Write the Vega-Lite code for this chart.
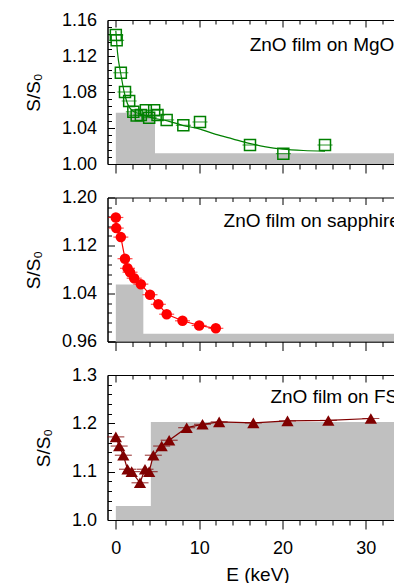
{
  "$schema": "https://vega.github.io/schema/vega-lite/v6.json",
  "background": "white",
  "padding": {"left": 23.5, "top": 10, "right": 0, "bottom": 0},
  "config": {
    "font": "Liberation Sans",
    "view": {"stroke": "black", "strokeWidth": 1},
    "axis": {
      "domainColor": "black", "domainWidth": 1, "tickColor": "black", "tickWidth": 1,
      "labelColor": "black", "titleColor": "black", "labelFont": "Liberation Sans", "titleFont": "Liberation Sans",
      "labelFontSize": 18, "titleFontSize": 19, "titleFontWeight": "normal", "grid": false
    }
  },
  "datasets": {
    "grey1": [{"x": 0, "y": 1.057}, {"x": 4.7, "y": 1.012}, {"x": 35, "y": 1.012}],
    "grey2": [{"x": 0, "y": 1.055}, {"x": 3.3, "y": 0.973}, {"x": 35, "y": 0.973}],
    "grey3": [{"x": 0, "y": 1.029}, {"x": 4.2, "y": 1.203}, {"x": 35, "y": 1.203}],
    "fit1": [
      {"x": 0, "y": 1.148}, {"x": 0.2, "y": 1.124}, {"x": 0.6, "y": 1.1}, {"x": 1.0, "y": 1.08}, {"x": 1.4, "y": 1.067},
      {"x": 2.0, "y": 1.059}, {"x": 2.8, "y": 1.056}, {"x": 3.4, "y": 1.054}, {"x": 4.5, "y": 1.051}, {"x": 6.2, "y": 1.048},
      {"x": 8.0, "y": 1.043}, {"x": 10.0, "y": 1.039}, {"x": 12.0, "y": 1.033}, {"x": 14.0, "y": 1.028}, {"x": 16.0, "y": 1.023},
      {"x": 18.0, "y": 1.019}, {"x": 20.0, "y": 1.0165}, {"x": 22.5, "y": 1.015}, {"x": 25.1, "y": 1.0144}
    ],
    "pts1": [
      {"x": 0, "y": 1.1433}, {"x": 0.1, "y": 1.1374}, {"x": 0.6, "y": 1.1014}, {"x": 1.1, "y": 1.08}, {"x": 1.6, "y": 1.07},
      {"x": 2.1, "y": 1.058}, {"x": 2.5, "y": 1.054}, {"x": 3.0, "y": 1.0544}, {"x": 3.6, "y": 1.0597}, {"x": 4.0, "y": 1.0515},
      {"x": 4.6, "y": 1.0597}, {"x": 5.0, "y": 1.0544}, {"x": 6.1, "y": 1.049}, {"x": 8.1, "y": 1.043}, {"x": 10.1, "y": 1.0467},
      {"x": 16.1, "y": 1.0211}, {"x": 20.1, "y": 1.0115}, {"x": 25.1, "y": 1.0211}
    ],
    "pts2": [
      {"x": 0, "y": 1.1667}, {"x": 0.05, "y": 1.149}, {"x": 0.6, "y": 1.134}, {"x": 1.1, "y": 1.098}, {"x": 1.4, "y": 1.082},
      {"x": 1.7, "y": 1.0755}, {"x": 2.2, "y": 1.0655}, {"x": 3.0, "y": 1.0555}, {"x": 4.1, "y": 1.038}, {"x": 5.1, "y": 1.022},
      {"x": 6.1, "y": 1.0055}, {"x": 8.0, "y": 0.9945}, {"x": 10.0, "y": 0.9867}, {"x": 12.0, "y": 0.982}
    ],
    "pts3": [
      {"x": 0, "y": 1.172}, {"x": 0.4, "y": 1.153}, {"x": 0.9, "y": 1.134}, {"x": 1.4, "y": 1.105}, {"x": 1.9, "y": 1.1},
      {"x": 2.9, "y": 1.077}, {"x": 3.5, "y": 1.105}, {"x": 4.0, "y": 1.1}, {"x": 4.5, "y": 1.134}, {"x": 5.5, "y": 1.153},
      {"x": 6.4, "y": 1.165}, {"x": 8.5, "y": 1.191}, {"x": 10.4, "y": 1.198}, {"x": 12.4, "y": 1.203}, {"x": 16.5, "y": 1.201},
      {"x": 20.6, "y": 1.205}, {"x": 25.5, "y": 1.206}, {"x": 30.6, "y": 1.21}
    ],
    "lab1": [{"x": 16.06, "y": 1.1256, "t": "ZnO film on MgO"}],
    "lab2": [{"x": 12.93, "y": 1.1505, "t": "ZnO film on sapphire"}],
    "lab3": [{"x": 18.55, "y": 1.2427, "t": "ZnO film on FS"}]
  },
  "spacing": 33.5,
  "bounds": "flush",
  "vconcat": [
    {
      "width": 300, "height": 144,
      "resolve": {"axis": {"x": "independent", "y": "independent"}},
      "layer": [
        {
          "data": {"name": "grey1"},
          "mark": {"type": "area", "interpolate": "step-after", "color": "#c0c0c0"},
          "encoding": {
            "x": {"field": "x", "type": "quantitative", "scale": {"domain": [-1, 35], "nice": false, "zero": false},
              "axis": {"orient": "bottom", "title": null, "values": [0,2,4,6,8,10,12,14,16,18,20,22,24,26,28,30,32,34], "labels": false,
                "tickSize": {"condition": {"test": "datum.value % 10 === 0", "value": 9}, "value": 5}}},
            "y": {"field": "y", "type": "quantitative", "scale": {"domain": [1.0, 1.16], "nice": false, "zero": false},
              "axis": {"orient": "left", "title": "S/S₀", "titlePadding": 18, "labelPadding": 11, "ticks": false,
                "values": [1.0, 1.04, 1.08, 1.12, 1.16], "format": ".2f"}},
            "y2": {"datum": 1.0}
          }
        },
        {
          "data": {"name": "fit1"},
          "mark": {"type": "line", "color": "#008000", "strokeWidth": 1.2, "interpolate": "monotone"},
          "encoding": {
            "x": {"field": "x", "type": "quantitative",
              "axis": {"orient": "top", "title": null, "values": [0, 10, 20, 30], "labels": false, "domain": false, "offset": -7, "tickSize": 7}},
            "y": {"field": "y", "type": "quantitative",
              "axis": {"orient": "left", "title": null, "values": [1.0, 1.04, 1.08, 1.12, 1.16], "labels": false, "domain": false, "offset": -7, "tickSize": 7}}
          }
        },
        {
          "data": {"name": "pts1"},
          "mark": {"type": "tick", "orient": "horizontal", "color": "#008000", "size": 15, "thickness": 1.2},
          "encoding": {
            "x": {"field": "x", "type": "quantitative",
              "axis": {"orient": "top", "title": null, "values": [2,4,6,8,12,14,16,18,22,24,26,28,32,34], "labels": false, "domain": false, "offset": -4, "tickSize": 4}},
            "y": {"field": "y", "type": "quantitative",
              "axis": {"orient": "left", "title": null, "values": [1.008,1.016,1.024,1.032,1.048,1.056,1.064,1.072,1.088,1.096,1.104,1.112,1.128,1.136,1.144,1.152], "labels": false, "domain": false, "offset": -4, "tickSize": 4}}
          }
        },
        {
          "data": {"name": "pts1"},
          "mark": {"type": "point", "shape": "square", "filled": false, "color": "#008000", "size": 121, "strokeWidth": 1.5, "opacity": 1},
          "encoding": {"x": {"field": "x", "type": "quantitative", "axis": null}, "y": {"field": "y", "type": "quantitative", "axis": null}}
        },
        {
          "data": {"name": "lab1"},
          "mark": {"type": "text", "align": "left", "baseline": "alphabetic", "fontSize": 19, "font": "Liberation Sans", "color": "black"},
          "encoding": {"x": {"field": "x", "type": "quantitative", "axis": null}, "y": {"field": "y", "type": "quantitative", "axis": null}, "text": {"field": "t"}}
        }
      ]
    },
    {
      "width": 300, "height": 144,
      "resolve": {"axis": {"x": "independent", "y": "independent"}},
      "layer": [
        {
          "data": {"name": "grey2"},
          "mark": {"type": "area", "interpolate": "step-after", "color": "#c0c0c0"},
          "encoding": {
            "x": {"field": "x", "type": "quantitative", "scale": {"domain": [-1, 35], "nice": false, "zero": false},
              "axis": {"orient": "bottom", "title": null, "values": [0,2,4,6,8,10,12,14,16,18,20,22,24,26,28,30,32,34], "labels": false,
                "tickSize": {"condition": {"test": "datum.value % 10 === 0", "value": 9}, "value": 5}}},
            "y": {"field": "y", "type": "quantitative", "scale": {"domain": [0.96, 1.2], "nice": false, "zero": false},
              "axis": {"orient": "left", "title": "S/S₀", "titlePadding": 18, "labelPadding": 11, "ticks": false,
                "values": [0.96, 1.04, 1.12, 1.2], "format": ".2f"}},
            "y2": {"datum": 0.96}
          }
        },
        {
          "data": {"name": "pts2"},
          "mark": {"type": "line", "color": "#ff0000", "strokeWidth": 1.2},
          "encoding": {
            "x": {"field": "x", "type": "quantitative",
              "axis": {"orient": "top", "title": null, "values": [0, 10, 20, 30], "labels": false, "domain": false, "offset": -7, "tickSize": 7}},
            "y": {"field": "y", "type": "quantitative",
              "axis": {"orient": "left", "title": null, "values": [0.96, 1.04, 1.12, 1.2], "labels": false, "domain": false, "offset": -7, "tickSize": 7}}
          }
        },
        {
          "data": {"name": "pts2"},
          "mark": {"type": "tick", "orient": "horizontal", "color": "#ff0000", "size": 15, "thickness": 1.2},
          "encoding": {
            "x": {"field": "x", "type": "quantitative",
              "axis": {"orient": "top", "title": null, "values": [2,4,6,8,12,14,16,18,22,24,26,28,32,34], "labels": false, "domain": false, "offset": -4, "tickSize": 4}},
            "y": {"field": "y", "type": "quantitative",
              "axis": {"orient": "left", "title": null, "values": [0.976,0.992,1.008,1.024,1.056,1.072,1.088,1.104,1.136,1.152,1.168,1.184], "labels": false, "domain": false, "offset": -4, "tickSize": 4}}
          }
        },
        {
          "data": {"name": "pts2"},
          "mark": {"type": "point", "shape": "circle", "filled": true, "color": "#ff0000", "size": 110, "opacity": 1},
          "encoding": {"x": {"field": "x", "type": "quantitative", "axis": null}, "y": {"field": "y", "type": "quantitative", "axis": null}}
        },
        {
          "data": {"name": "lab2"},
          "mark": {"type": "text", "align": "left", "baseline": "alphabetic", "fontSize": 19, "font": "Liberation Sans", "color": "black"},
          "encoding": {"x": {"field": "x", "type": "quantitative", "axis": null}, "y": {"field": "y", "type": "quantitative", "axis": null}, "text": {"field": "t"}}
        }
      ]
    },
    {
      "width": 300, "height": 145,
      "resolve": {"axis": {"x": "independent", "y": "independent"}},
      "layer": [
        {
          "data": {"name": "grey3"},
          "mark": {"type": "area", "interpolate": "step-after", "color": "#c0c0c0"},
          "encoding": {
            "x": {"field": "x", "type": "quantitative", "scale": {"domain": [-1, 35], "nice": false, "zero": false},
              "axis": {"orient": "bottom", "title": "E (keV)", "titlePadding": 8, "labelPadding": 10, "values": [0,2,4,6,8,10,12,14,16,18,20,22,24,26,28,30,32,34],
                "labelExpr": "datum.value % 10 === 0 ? datum.label : ''",
                "tickSize": {"condition": {"test": "datum.value % 10 === 0", "value": 9}, "value": 5}}},
            "y": {"field": "y", "type": "quantitative", "scale": {"domain": [1.0, 1.3], "nice": false, "zero": false},
              "axis": {"orient": "left", "title": "S/S₀", "titlePadding": 18, "labelPadding": 11, "ticks": false,
                "values": [1.0, 1.1, 1.2, 1.3], "format": ".1f"}},
            "y2": {"datum": 1.0}
          }
        },
        {
          "data": {"name": "pts3"},
          "mark": {"type": "line", "color": "#800000", "strokeWidth": 1.2},
          "encoding": {
            "x": {"field": "x", "type": "quantitative",
              "axis": {"orient": "top", "title": null, "values": [0, 10, 20, 30], "labels": false, "domain": false, "offset": -7, "tickSize": 7}},
            "y": {"field": "y", "type": "quantitative",
              "axis": {"orient": "left", "title": null, "values": [1.0, 1.1, 1.2, 1.3], "labels": false, "domain": false, "offset": -7, "tickSize": 7}}
          }
        },
        {
          "data": {"name": "pts3"},
          "mark": {"type": "tick", "orient": "horizontal", "color": "#800000", "size": 17, "thickness": 1.2},
          "encoding": {
            "x": {"field": "x", "type": "quantitative",
              "axis": {"orient": "top", "title": null, "values": [2,4,6,8,12,14,16,18,22,24,26,28,32,34], "labels": false, "domain": false, "offset": -4, "tickSize": 4}},
            "y": {"field": "y", "type": "quantitative",
              "axis": {"orient": "left", "title": null, "values": [1.02,1.04,1.06,1.08,1.12,1.14,1.16,1.18,1.22,1.24,1.26,1.28], "labels": false, "domain": false, "offset": -4, "tickSize": 4}}
          }
        },
        {
          "data": {"name": "pts3"},
          "mark": {"type": "point", "shape": "triangle-up", "filled": true, "color": "#800000", "size": 150, "opacity": 1},
          "encoding": {"x": {"field": "x", "type": "quantitative", "axis": null}, "y": {"field": "y", "type": "quantitative", "axis": null}}
        },
        {
          "data": {"name": "lab3"},
          "mark": {"type": "text", "align": "left", "baseline": "alphabetic", "fontSize": 19, "font": "Liberation Sans", "color": "black"},
          "encoding": {"x": {"field": "x", "type": "quantitative", "axis": null}, "y": {"field": "y", "type": "quantitative", "axis": null}, "text": {"field": "t"}}
        }
      ]
    }
  ]
}
